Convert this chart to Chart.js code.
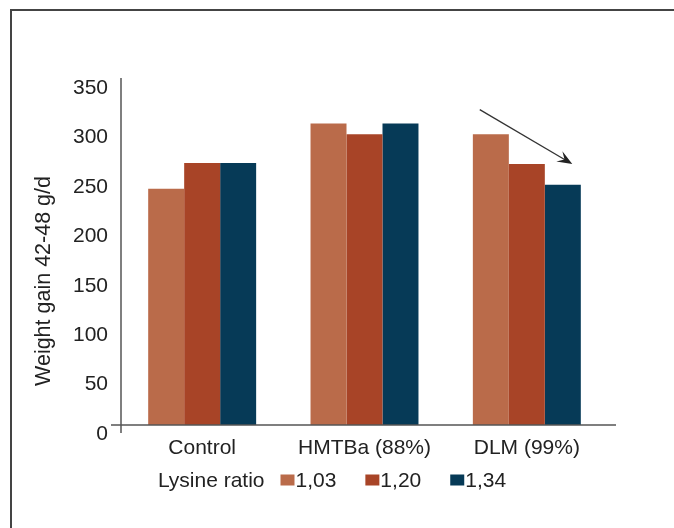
<!DOCTYPE html>
<html>
<head>
<meta charset="utf-8">
<script src="https://cdn.jsdelivr.net/npm/chart.js@4/dist/chart.umd.min.js"></script>
<style>
  html, body { margin: 0; padding: 0; background: #fff; }
  #wrap { width: 674px; height: 528px; position: relative; }
</style>
</head>
<body>
<div id="wrap"><canvas id="c" width="674" height="528"></canvas></div>
<script>
// ---- data ----
const categories = ['Control', 'HMTBa (88%)', 'DLM (99%)'];
const seriesLabels = ['1,03', '1,20', '1,34'];
const lys103 = [239, 305, 294];
const lys120 = [265, 294, 264];
const lys134 = [265, 305, 243];
const legendTitle = 'Lysine ratio';
const yTitle = 'Weight gain 42-48 g/d';
const yMin = 0, yMax = 350, yStep = 50;
// arrow annotation (category index, value)
const arrowFrom = [1.71, 319];
const arrowTo = [2.28, 264];

const colors = ['#BA6B4A', '#A84427', '#063A57'];
const FONT = "'Liberation Sans', Arial, Helvetica, sans-serif";
const TEXT = '#222222';

const decor = {
  id: 'decor',
  beforeDraw(chart) {
    const ctx = chart.ctx;
    ctx.save();
    ctx.fillStyle = '#fff';
    ctx.fillRect(0, 0, chart.width, chart.height);
    // frame
    ctx.strokeStyle = '#444';
    ctx.lineWidth = 2;
    ctx.beginPath();
    ctx.moveTo(11, chart.height);
    ctx.lineTo(11, 10);
    ctx.lineTo(chart.width, 10);
    ctx.stroke();
    ctx.restore();
  },
  afterDatasetsDraw(chart) {
    const ctx = chart.ctx;
    const a = chart.chartArea;
    const xs = chart.scales.x, ys = chart.scales.y;
    ctx.save();
    // axes lines
    ctx.strokeStyle = '#555';
    ctx.lineWidth = 1.5;
    ctx.beginPath();
    ctx.moveTo(a.left, ys.getPixelForValue(yMax) - 1);
    ctx.lineTo(a.left, a.bottom + 8);
    ctx.moveTo(a.left - 10, a.bottom);
    ctx.lineTo(a.right + 8, a.bottom);
    ctx.stroke();
    // arrow
    const x1 = xs.getPixelForValue(arrowFrom[0]), y1 = ys.getPixelForValue(arrowFrom[1]);
    const x2 = xs.getPixelForValue(arrowTo[0]), y2 = ys.getPixelForValue(arrowTo[1]);
    const ang = Math.atan2(y2 - y1, x2 - x1);
    ctx.strokeStyle = '#333';
    ctx.lineWidth = 1.3;
    ctx.beginPath();
    ctx.moveTo(x1, y1);
    ctx.lineTo(x2 - 8 * Math.cos(ang), y2 - 8 * Math.sin(ang));
    ctx.stroke();
    const L = 15, W = 6;
    ctx.fillStyle = '#222';
    ctx.beginPath();
    ctx.moveTo(x2, y2);
    ctx.lineTo(x2 - L * Math.cos(ang) + W * Math.sin(ang), y2 - L * Math.sin(ang) - W * Math.cos(ang));
    ctx.lineTo(x2 - 0.6 * L * Math.cos(ang), y2 - 0.6 * L * Math.sin(ang));
    ctx.lineTo(x2 - L * Math.cos(ang) - W * Math.sin(ang), y2 - L * Math.sin(ang) + W * Math.cos(ang));
    ctx.closePath();
    ctx.fill();
    ctx.restore();

    // y axis title
    ctx.save();
    ctx.translate(44, (a.top + a.bottom) / 2 + 29);
    ctx.rotate(-Math.PI / 2);
    ctx.fillStyle = TEXT;
    ctx.font = '21.5px ' + FONT;
    ctx.textAlign = 'center';
    ctx.textBaseline = 'middle';
    ctx.fillText(yTitle, 0, 0);
    ctx.restore();

    // legend (from dataset labels/colours)
    ctx.save();
    ctx.font = '21px ' + FONT;
    ctx.fillStyle = TEXT;
    ctx.textBaseline = 'middle';
    ctx.textAlign = 'left';
    const ly = a.bottom + 56;
    const boxW = 14, boxH = 11, titleGap = 16, itemGap = 29, boxTextGap = 1;
    const ds = chart.data.datasets;
    let total = ctx.measureText(legendTitle).width + titleGap;
    ds.forEach((d, i) => { total += boxW + boxTextGap + ctx.measureText(d.label).width + (i < ds.length - 1 ? itemGap : 0); });
    let x = (chart.width - total) / 2 - 5;
    ctx.fillText(legendTitle, x, ly);
    x += ctx.measureText(legendTitle).width + titleGap;
    ds.forEach((d, i) => {
      ctx.fillStyle = d.backgroundColor;
      ctx.fillRect(x, ly - boxH / 2 - 1, boxW, boxH);
      x += boxW + boxTextGap;
      ctx.fillStyle = TEXT;
      ctx.fillText(d.label, x, ly);
      x += ctx.measureText(d.label).width + itemGap;
    });
    ctx.restore();
  }
};

new Chart(document.getElementById('c'), {
  type: 'bar',
  data: {
    labels: categories,
    datasets: [
      { label: seriesLabels[0], data: lys103, backgroundColor: colors[0] },
      { label: seriesLabels[1], data: lys120, backgroundColor: colors[1] },
      { label: seriesLabels[2], data: lys134, backgroundColor: colors[2] }
    ]
  },
  options: {
    responsive: false,
    animation: false,
    devicePixelRatio: 1,
    layout: { padding: { left: 33, right: 66, top: 79, bottom: 69 } },
    datasets: { bar: { categoryPercentage: 0.665, barPercentage: 1.0, borderWidth: 0 } },
    scales: {
      x: {
        grid: { display: false, drawTicks: false },
        border: { display: false },
        ticks: { color: TEXT, font: { size: 21, family: FONT }, padding: 11 },
        afterFit(s) { s.height = 34; }
      },
      y: {
        min: yMin, max: yMax,
        grid: { display: false, drawTicks: false },
        border: { display: false },
        ticks: { stepSize: yStep, color: TEXT, font: { size: 21, family: FONT }, padding: 13, labelOffset: 9 },
        afterFit(s) { s.width = 88; }
      }
    },
    plugins: {
      tooltip: { enabled: false },
      legend: { display: false }
    }
  },
  plugins: [decor]
});
</script>
</body>
</html>
